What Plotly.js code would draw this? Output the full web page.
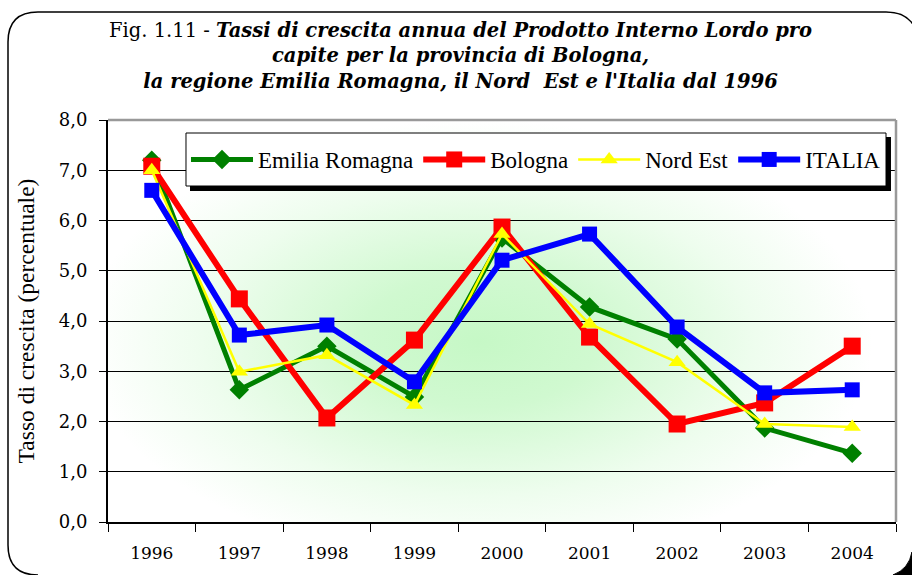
<!DOCTYPE html>
<html>
<head>
<meta charset="utf-8">
<script src="https://cdn.plot.ly/plotly-3.0.1.min.js"></script>
<style>html,body{margin:0;padding:0;background:#fff;}#chart{width:912px;height:575px;}</style>
</head>
<body>
<div id="chart"></div>
<script>
var years = ['1996','1997','1998','1999','2000','2001','2002','2003','2004'];
var emiliaRomagna = [7.2, 2.63, 3.5, 2.49, 5.65, 4.28, 3.64, 1.87, 1.37];
var bologna       = [7.08, 4.44, 2.07, 3.62, 5.87, 3.68, 1.95, 2.37, 3.5];
var nordEst       = [7.0, 2.99, 3.32, 2.33, 5.73, 3.94, 3.18, 1.95, 1.89];
var italia        = [6.6, 3.72, 3.92, 2.79, 5.21, 5.73, 3.88, 2.57, 2.63];
var seriesNames = ['Emilia Romagna', 'Bologna', 'Nord Est', 'ITALIA'];
var yTicks = [0,1,2,3,4,5,6,7,8];

// plot area in pixels
var L = 108, R = 16, T = 120, B = 53, W = 912, H = 575;
var PW = W - L - R, PH = H - T - B;
function px(x){ return ((x - L) / PW).toFixed(5); }
function py(y){ return ((H - B - y) / PH).toFixed(5); }
function P(x, y){ return px(x) + ',' + py(y); }

// background gradient image for the plot area
var cv = document.createElement('canvas');
cv.width = PW; cv.height = PH;
var ctx = cv.getContext('2d');
ctx.fillStyle = '#ffffff';
ctx.fillRect(0, 0, PW, PH);
ctx.save();
ctx.translate(PW * 0.47, PH * 0.55);
ctx.scale(1, PH / PW * 1.1);
var g = ctx.createRadialGradient(0, 0, 0, 0, 0, PW * 0.5);
g.addColorStop(0, 'rgb(198,248,198)');
g.addColorStop(0.3, 'rgb(208,249,208)');
g.addColorStop(0.7, 'rgb(238,253,238)');
g.addColorStop(1, 'rgb(255,255,255)');
ctx.fillStyle = g;
ctx.fillRect(-PW, -PW * 2, PW * 2, PW * 4);
ctx.restore();
var bgURL = cv.toDataURL('image/png');

var serif = 'DejaVu Serif, serif';
var times = 'Liberation Serif, Times New Roman, serif';

var traces = [
  {x: years, y: emiliaRomagna, name: seriesNames[0], type: 'scatter', mode: 'lines+markers',
   line: {color: '#008000', width: 5}, marker: {symbol: 'diamond', size: 15, color: '#008000'}},
  {x: years, y: bologna, name: seriesNames[1], type: 'scatter', mode: 'lines+markers',
   line: {color: '#ff0000', width: 6}, marker: {symbol: 'square', size: 17, color: '#ff0000'}},
  {x: years, y: nordEst, name: seriesNames[2], type: 'scatter', mode: 'lines+markers',
   line: {color: '#ffff00', width: 2.5}, marker: {symbol: 'triangle-up', size: 15, color: '#ffff00'}},
  {x: years, y: italia, name: seriesNames[3], type: 'scatter', mode: 'lines+markers',
   line: {color: '#0000ff', width: 6}, marker: {symbol: 'square', size: 15, color: '#0000ff'}}
];

var layout = {
  width: W, height: H,
  margin: {l: L, r: R, t: T, b: B},
  paper_bgcolor: '#ffffff',
  plot_bgcolor: 'rgba(0,0,0,0)',
  separators: ',.',
  showlegend: true,
  title: {
    text: 'Fig. 1.11 - <b><i>Tassi di crescita annua del Prodotto Interno Lordo pro</i></b><br>' +
          '<b><i>capite per la provincia di Bologna,</i></b><br>' +
          '<b><i>la regione Emilia Romagna, il Nord  Est e l\'Italia dal 1996</i></b>',
    font: {family: serif, size: 19.5, color: '#000'},
    x: 0.505, xref: 'container', xanchor: 'center',
    y: 1 - 37 / H, yref: 'container', yanchor: 'top'
  },
  xaxis: {
    type: 'category', range: [-0.5, 8.5], fixedrange: true,
    tickson: 'boundaries', ticks: 'outside', ticklen: 8, tickcolor: '#000', tickwidth: 1,
    showline: true, linecolor: '#000', linewidth: 2, showgrid: false, zeroline: false,
    tickfont: {family: serif, size: 17, color: '#000'},
    ticklabelstandoff: 15
  },
  yaxis: {
    range: [0, 8], tickvals: yTicks, tickformat: '.1f', fixedrange: true,
    ticks: 'outside', ticklen: 7, tickcolor: '#000', tickwidth: 1,
    showline: true, linecolor: '#000', linewidth: 2,
    showgrid: true, gridcolor: '#000', gridwidth: 1, zeroline: false,
    tickfont: {family: serif, size: 18, color: '#000'},
    ticklabelstandoff: 8,
    title: {text: 'Tasso di crescita (percentuale)', font: {family: times, size: 23.5, color: '#000'}, standoff: 18}
  },
  legend: {
    orientation: 'h', x: px(186), y: py(159.5), xanchor: 'left', yanchor: 'middle',
    bgcolor: 'rgba(0,0,0,0)', borderwidth: 0,
    font: {family: times, size: 23, color: '#000'},
    itemwidth: 62, tracegroupgap: 0
  },
  images: [{source: bgURL, xref: 'paper', yref: 'paper', x: 0, y: 1, sizex: 1, sizey: 1,
            sizing: 'stretch', xanchor: 'left', yanchor: 'top', layer: 'below'}],
  shapes: [
    // outer rounded frame
    {type: 'path', xref: 'paper', yref: 'paper', layer: 'above',
     path: 'M' + P(38, 575) + ' Q' + P(8, 575) + ' ' + P(8, 545) + ' L' + P(8, 42) +
           ' Q' + P(8, 12) + ' ' + P(38, 12) + ' L' + P(886, 12) + ' Q' + P(912, 12) + ' ' + P(918, 36) +
           ' L' + P(918, 560),
     line: {color: '#000', width: 1.5}},
    // frame shadow at bottom-right
    {type: 'path', xref: 'paper', yref: 'paper', layer: 'above',
     path: 'M' + P(912, 552) + ' L' + P(912, 575) + ' L' + P(893, 575) + ' Q' + P(909, 569) + ' ' + P(912, 552) + ' Z',
     fillcolor: '#000', line: {color: '#000', width: 1}},
    // plot area top and right border
    {type: 'line', xref: 'paper', yref: 'paper', x0: 0, x1: 1, y0: 1, y1: 1, layer: 'above',
     line: {color: '#999', width: 2.5}},
    {type: 'line', xref: 'paper', yref: 'paper', x0: 1, x1: 1, y0: 0, y1: 1, layer: 'above',
     line: {color: '#999', width: 2.5}},
    // legend shadow
    {type: 'rect', xref: 'paper', yref: 'paper', layer: 'above',
     x0: px(190), x1: px(891), y0: py(137), y1: py(191),
     fillcolor: '#000', line: {width: 0}},
    // legend box
    {type: 'rect', xref: 'paper', yref: 'paper', layer: 'above',
     x0: px(186), x1: px(886), y0: py(133), y1: py(186),
     fillcolor: '#fff', line: {color: '#000', width: 1}}
  ]
};

Plotly.newPlot('chart', traces, layout, {displayModeBar: false, staticPlot: true});
</script>
</body>
</html>
